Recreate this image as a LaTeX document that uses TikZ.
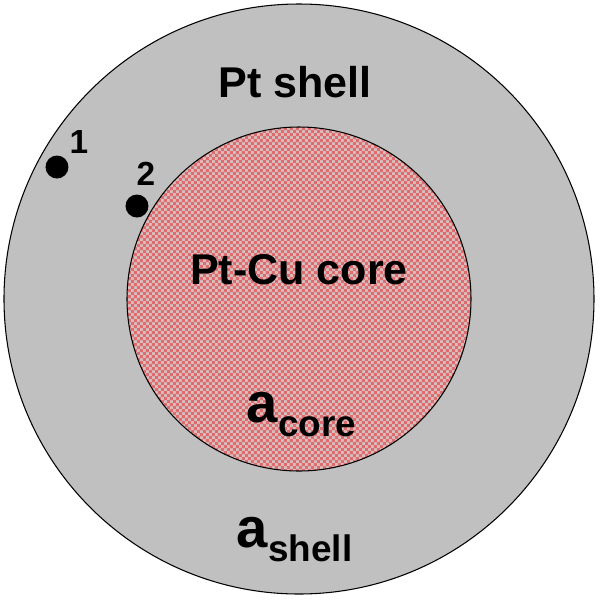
\documentclass[tikz,border=0pt]{standalone}
\usepackage{fontspec}
\setmainfont{Liberation Sans}
\usetikzlibrary{patterns}

% Damier fin du coeur
\pgfdeclarepatternformonly{damierfin}{\pgfqpoint{0pt}{0pt}}{\pgfqpoint{3.4pt}{3.4pt}}{\pgfqpoint{3.4pt}{3.4pt}}{%
  \pgfpathrectangle{\pgfpointorigin}{\pgfqpoint{1.7pt}{1.7pt}}%
  \pgfpathrectangle{\pgfqpoint{1.7pt}{1.7pt}}{\pgfqpoint{1.7pt}{1.7pt}}%
  \pgfusepath{fill}}

\begin{document}
\begin{tikzpicture}[x=0.02cm,y=-0.02cm,
  etiq/.style={font=\bfseries\fontsize{24.5}{24.5}\selectfont, anchor=base},
  grand/.style={font=\bfseries\fontsize{32}{32}\selectfont, anchor=base west, inner sep=0pt},
  petit/.style={font=\bfseries\fontsize{21}{21}\selectfont, anchor=base west, inner sep=0pt},
  numero/.style={font=\bfseries\fontsize{19}{19}\selectfont, anchor=base},
  point/.style={circle, fill=black, inner sep=0pt, minimum size=23*0.02cm}]

% Couleurs
\definecolor{grisCoq}{RGB}{192,192,192}
\definecolor{rougeA}{RGB}{220,108,110}
\definecolor{roseA}{RGB}{218,188,188}

\useasboundingbox (0,0) rectangle (600,600);

% Centre commun
\coordinate (O) at (299,299);

% Coquille Pt
\draw[black, fill=grisCoq, line width=0.6pt] (O) circle[radius=295];

% Coeur Pt-Cu (damier)
\fill[roseA] (O) circle[radius=172];
\fill[pattern=damierfin, pattern color=rougeA] (O) circle[radius=172];
\draw[black, line width=0.6pt] (O) circle[radius=172];

% Points 1 et 2
\node[point] (P1) at (57,167) {};
\node[point] (P2) at (137,206) {};
\node[numero] (N1) at (79,153) {1};
\node[numero] (N2) at (146,185) {2};

% Etiquettes
\node[etiq] (shell) at (295,97) {Pt shell};
\node[etiq] (core) at (299,284) {Pt-Cu core};

\node[grand] (aC) at (246,422) {a};
\node[petit] at ([yshift=-8pt]aC.base east) {core};

\node[grand] (aS) at (236,547) {a};
\node[petit] at ([yshift=-8pt]aS.base east) {shell};

\end{tikzpicture}
\end{document}
